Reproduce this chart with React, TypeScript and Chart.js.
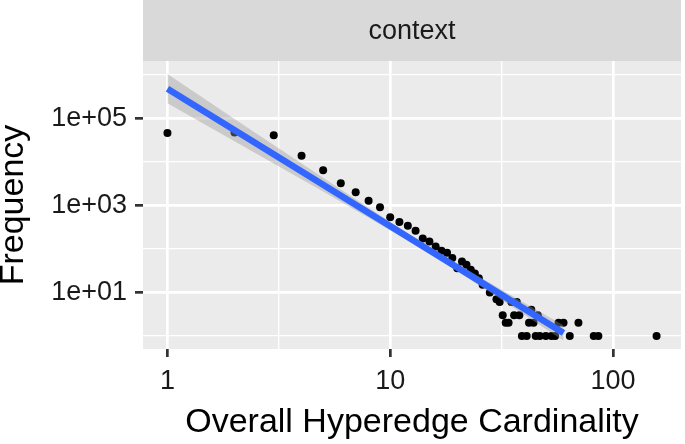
import React, { useEffect, useRef } from "react";
import { Chart, registerables } from "chart.js";

Chart.register(...registerables);

// ---- data ----
const cardinality = [
  1, 2, 3, 4, 5, 6, 7, 8, 9, 10, 11, 12, 13, 14, 15, 16, 17, 18, 19, 20, 21, 22, 23, 24, 25, 26,
  28, 30, 31, 32, 33, 34, 35, 36, 37, 38, 39, 41, 42, 43, 44, 45, 46, 47, 50, 53, 55, 57, 60, 64,
  70, 82, 86, 157,
];
const frequency = [
  46000, 47000, 41000, 13800, 6400, 3200, 2000, 1280, 900, 530, 415, 342, 262, 172, 147, 113, 90,
  81, 62, 36, 51, 43, 33, 27, 21, 15, 10, 7, 6, 3, 2, 2, 6, 3, 6, 3, 1, 1, 2, 4, 2, 1, 3, 1, 1, 1,
  1, 2, 2, 1, 2, 1, 1, 1,
];

// fitted power-law line and its confidence band
const fitX = [1, 60];
const fitY = [478600, 1.167];
const bandX = [1, 2, 3, 5, 8, 12, 16, 20, 30, 45, 60];
const bandUpper = [1037000, 97000, 24300, 4280, 877, 230, 91.0, 45.5, 13.4, 4.06, 1.75];
const bandLower = [220800, 29700, 9160, 2070, 519, 154, 63.0, 30.8, 8.07, 2.06, 0.778];

// axes
const xMin = 0.7766;
const xMax = 202.1;
const yMin = 0.5004;
const yMax = 2074000;
const xTickValues = [1, 10, 100];
const xTickLabels = ["1", "10", "100"];
const xMinorValues = [3.1623, 31.623];
const yTickValues = [10, 1000, 100000];
const yTickLabels = ["1e+01", "1e+03", "1e+05"];
const yMinorValues = [1, 100, 10000, 1000000];

const facetLabel = "context";
const xTitle = "Overall Hyperedge Cardinality";
const yTitle = "Frequency";

const FONT = '"Liberation Sans", Arial, Helvetica, sans-serif';

const near = (a: number, b: number) => Math.abs(a - b) / b < 1e-4;
const isIn = (list: number[], v: number) => list.some((t) => near(v, t));

const ggBackground = {
  id: "ggBackground",
  beforeDraw(chart: any) {
    const { ctx, chartArea: a } = chart;
    ctx.save();
    ctx.fillStyle = "#EBEBEB";
    ctx.fillRect(a.left, a.top, a.right - a.left, a.bottom - a.top);
    ctx.fillStyle = "#D9D9D9";
    ctx.fillRect(a.left, 0, a.right - a.left, a.top);
    ctx.fillStyle = "#1A1A1A";
    ctx.font = `27px ${FONT}`;
    ctx.textAlign = "center";
    ctx.textBaseline = "middle";
    ctx.fillText(facetLabel, (a.left + a.right) / 2, 32);
    ctx.restore();
  },
};

export default function App() {
  const ref = useRef<HTMLCanvasElement | null>(null);

  useEffect(() => {
    if (!ref.current) return;
    const chart = new Chart(ref.current, {
      type: "scatter",
      data: {
        datasets: [
          {
            type: "line",
            label: "fit",
            data: fitX.map((x, i) => ({ x, y: fitY[i] })),
            borderColor: "#3366FF",
            borderWidth: 6.5,
            pointRadius: 0,
            fill: false,
            order: 0,
          } as any,
          {
            type: "line",
            label: "upper",
            data: bandX.map((x, i) => ({ x, y: bandUpper[i] })),
            borderColor: "rgba(0,0,0,0)",
            borderWidth: 0,
            pointRadius: 0,
            backgroundColor: "rgba(153,153,153,0.4)",
            fill: "+1",
            order: 1,
          } as any,
          {
            type: "line",
            label: "lower",
            data: bandX.map((x, i) => ({ x, y: bandLower[i] })),
            borderColor: "rgba(0,0,0,0)",
            borderWidth: 0,
            pointRadius: 0,
            fill: false,
            order: 2,
          } as any,
          {
            type: "scatter",
            label: "points",
            data: cardinality.map((x, i) => ({ x, y: frequency[i] })),
            backgroundColor: "#000000",
            borderWidth: 0,
            pointRadius: 4,
            order: 3,
          } as any,
        ],
      },
      options: {
        animation: false,
        responsive: false,
        devicePixelRatio: 1,
        events: [],
        layout: { padding: { top: 61, left: 0, right: 0, bottom: 0 } },
        plugins: {
          legend: { display: false },
          tooltip: { enabled: false },
        },
        scales: {
          x: {
            type: "logarithmic",
            position: "bottom",
            min: xMin,
            max: xMax,
            afterBuildTicks: (s: any) => {
              s.ticks = [...xTickValues, ...xMinorValues]
                .sort((a, b) => a - b)
                .map((v) => ({ value: v }));
            },
            afterFit: (s: any) => {
              s.height = 95;
            },
            ticks: {
              autoSkip: false,
              maxRotation: 0,
              minRotation: 0,
              padding: 8,
              color: "#1A1A1A",
              font: { family: FONT, size: 27 },
              callback: (v: any) => {
                const i = xTickValues.findIndex((t) => near(Number(v), t));
                return i >= 0 ? xTickLabels[i] : "";
              },
            },
            grid: {
              color: "#FFFFFF",
              lineWidth: (c: any) => (c.tick && isIn(xTickValues, c.tick.value) ? 2.7 : 1.35),
              tickColor: (c: any) =>
                c.tick && isIn(xTickValues, c.tick.value) ? "#333333" : "rgba(0,0,0,0)",
              tickLength: 8,
              tickWidth: 2.7,
              drawTicks: true,
            },
            border: { display: false },
            title: {
              display: true,
              text: xTitle,
              color: "#000000",
              font: { family: FONT, size: 34 },
              padding: { top: 0, bottom: 1.4 },
            },
          },
          y: {
            type: "logarithmic",
            position: "left",
            min: yMin,
            max: yMax,
            afterBuildTicks: (s: any) => {
              s.ticks = [...yTickValues, ...yMinorValues]
                .sort((a, b) => a - b)
                .map((v) => ({ value: v }));
            },
            afterFit: (s: any) => {
              s.width = 143;
            },
            ticks: {
              autoSkip: false,
              padding: 8,
              color: "#1A1A1A",
              font: { family: FONT, size: 27 },
              callback: (v: any) => {
                const i = yTickValues.findIndex((t) => near(Number(v), t));
                return i >= 0 ? yTickLabels[i] : "";
              },
            },
            grid: {
              color: "#FFFFFF",
              lineWidth: (c: any) => (c.tick && isIn(yTickValues, c.tick.value) ? 2.7 : 1.35),
              tickColor: (c: any) =>
                c.tick && isIn(yTickValues, c.tick.value) ? "#333333" : "rgba(0,0,0,0)",
              tickLength: 8,
              tickWidth: 2.7,
              drawTicks: true,
            },
            border: { display: false },
            title: {
              display: true,
              text: yTitle,
              color: "#000000",
              font: { family: FONT, size: 34, lineHeight: 0.8 },
              padding: { top: 0, bottom: 0 },
            },
          },
        },
      } as any,
      plugins: [ggBackground],
    });
    return () => chart.destroy();
  }, []);

  return (
    <div style={{ position: "absolute", left: 0, top: 0, width: 685, height: 444, background: "#FFFFFF" }}>
      <canvas ref={ref} width={685} height={444} style={{ width: 685, height: 444, display: "block" }} />
    </div>
  );
}
